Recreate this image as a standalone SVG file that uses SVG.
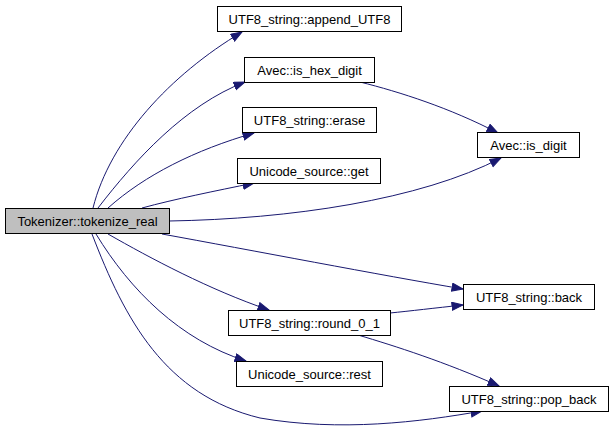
<svg xmlns="http://www.w3.org/2000/svg" width="613" height="432" viewBox="0 0 613 432">
<style>
.n rect{fill:#ffffff;stroke:#000000;stroke-width:1}
.n.root rect{fill:#bfbfbf}
.n text{font-family:"Liberation Sans",Arial,sans-serif;font-size:13px;fill:#000000;text-anchor:middle}
.e path{fill:none;stroke:#191970;stroke-width:1;marker-end:url(#arr)}
</style>
<defs>
<marker id="arr" markerUnits="userSpaceOnUse" markerWidth="13" markerHeight="10" refX="11.5" refY="4.5" orient="auto" viewBox="0 0 13 10">
<path d="M0.5,0.5 L11.5,4.5 L0.5,8.5 z" fill="#191970" stroke="#191970" stroke-width="1"/>
</marker>
</defs>
<rect width="613" height="432" fill="#ffffff"/>
<g id="connectors" class="e">
<path d="M93,208 C110,140 170,75 242,32"/>
<path d="M98,208 C135,160 185,105 245,82"/>
<path d="M108,208 C145,175 195,150 254,133"/>
<path d="M142,208 C175,199 215,191 254,183"/>
<path d="M169,221 C290,219 420,200 501,158"/>
<path d="M360,82 C400,92 450,108 498,133"/>
<path d="M162,234 C250,250 380,275 463,289"/>
<path d="M108,234 C150,258 210,290 269,310"/>
<path d="M390,313 C410,311 435,308 463,305"/>
<path d="M358,335 C395,346 445,362 499,386"/>
<path d="M96,234 C130,290 180,340 246,361"/>
<path d="M92,234 C125,320 165,395 260,418 C340,432 420,422 482,411"/>
</g>
<g id="node_tokenize_real" class="n root"><rect x="5.5" y="208.5" width="164" height="25"/><text x="87.5" y="225.5">Tokenizer::tokenize_real</text></g>
<g id="node_append_UTF8" class="n"><rect x="217.5" y="6.5" width="184" height="25"/><text x="309.5" y="23.5">UTF8_string::append_UTF8</text></g>
<g id="node_is_hex_digit" class="n"><rect x="244.5" y="57.5" width="130" height="25"/><text x="309.5" y="74.5">Avec::is_hex_digit</text></g>
<g id="node_erase" class="n"><rect x="242.5" y="107.5" width="134" height="25"/><text x="309.5" y="124.5">UTF8_string::erase</text></g>
<g id="node_get" class="n"><rect x="237.5" y="158.5" width="143" height="25"/><text x="309" y="175.5">Unicode_source::get</text></g>
<g id="node_is_digit" class="n"><rect x="477.5" y="132.5" width="102" height="25"/><text x="528.5" y="149.5">Avec::is_digit</text></g>
<g id="node_back" class="n"><rect x="463.5" y="284.5" width="131" height="25"/><text x="529" y="301.5">UTF8_string::back</text></g>
<g id="node_round_0_1" class="n"><rect x="228.5" y="310.5" width="162" height="25"/><text x="309.5" y="327.5">UTF8_string::round_0_1</text></g>
<g id="node_rest" class="n"><rect x="236.5" y="361.5" width="146" height="25"/><text x="309.5" y="378.5">Unicode_source::rest</text></g>
<g id="node_pop_back" class="n"><rect x="449.5" y="386.5" width="159" height="25"/><text x="529" y="403.5">UTF8_string::pop_back</text></g>
</svg>
